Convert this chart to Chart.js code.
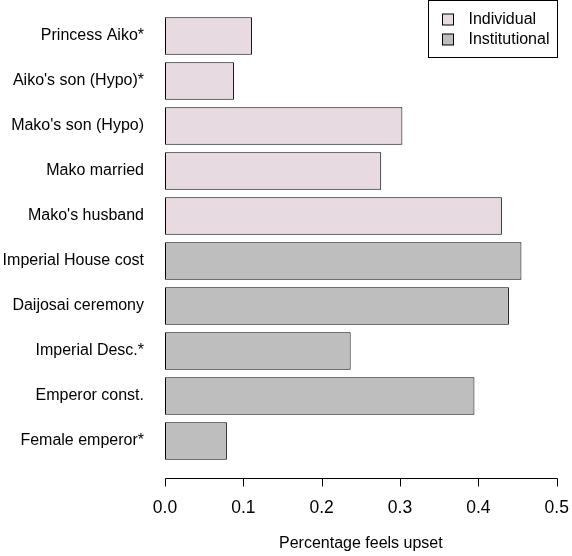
<!DOCTYPE html>
<html>
<head>
<meta charset="utf-8">
<script src="https://cdn.jsdelivr.net/npm/chart.js@4.4.1/dist/chart.umd.min.js"></script>
<style>
    html, body { margin: 0; padding: 0; background: #fff; }
    #wrap { width: 572px; height: 556px; }
</style>
</head>
<body>
<div id="wrap"><canvas id="upsetChart" width="572" height="556"></canvas></div>
<script>
// Data
const categories = [
    "Princess Aiko*",
    "Aiko's son (Hypo)*",
    "Mako's son (Hypo)",
    "Mako married",
    "Mako's husband",
    "Imperial House cost",
    "Daijosai ceremony",
    "Imperial Desc.*",
    "Emperor const.",
    "Female emperor*"
];
const individualValues = [0.111, 0.088, 0.303, 0.276, 0.430, null, null, null, null, null];
const institutionalValues = [null, null, null, null, null, 0.455, 0.439, 0.237, 0.395, 0.079];
const seriesNames = ["Individual", "Institutional"];
const xTicks = [0.0, 0.1, 0.2, 0.3, 0.4, 0.5];
const axisTitle = "Percentage feels upset";

const FONT = "'Liberation Sans', Arial, Helvetica, sans-serif";

// R style axis: line + ticks, detached below the bars
const rAxisPlugin = {
    id: "rAxis",
    afterDraw(chart) {
        const ctx = chart.ctx;
        const xs = chart.scales.x;
        const yLine = 478.5;
        ctx.save();
        ctx.strokeStyle = "#000";
        ctx.lineWidth = 1;
        ctx.beginPath();
        const first = Math.round(xs.getPixelForValue(xTicks[0])) + 0.5;
        const last = Math.round(xs.getPixelForValue(xTicks[xTicks.length - 1])) + 0.5;
        ctx.moveTo(first, yLine);
        ctx.lineTo(last, yLine);
        xTicks.forEach((v) => {
            const px = Math.round(xs.getPixelForValue(v)) + 0.5;
            ctx.moveTo(px, yLine);
            ctx.lineTo(px, yLine + 8);
        });
        ctx.stroke();
        ctx.restore();
    }
};

// Boxed legend in the top right corner
const boxLegendPlugin = {
    id: "boxLegend",
    afterDraw(chart) {
        const ctx = chart.ctx;
        const xs = chart.scales.x;
        ctx.save();
        ctx.font = "16px " + FONT;
        const textW = Math.max(...chart.data.datasets.map((d) => ctx.measureText(d.label).width));
        const right = Math.round(xs.right) + 0.5;
        const width = Math.round(14 + 11 + 15 + textW + 8);
        const left = right - width;
        const top = 0.5;
        const height = 57;
        ctx.strokeStyle = "#000";
        ctx.lineWidth = 1;
        ctx.strokeRect(left, top, width, height);
        chart.data.datasets.forEach((d, i) => {
            const cy = 19.5 + i * 20;
            ctx.fillStyle = d.backgroundColor;
            ctx.fillRect(left + 14, cy - 5.5, 11, 11);
            ctx.strokeStyle = "#000";
            ctx.strokeRect(left + 14, cy - 5.5, 11, 11);
            ctx.fillStyle = "#000";
            ctx.textAlign = "left";
            ctx.textBaseline = "middle";
            ctx.fillText(d.label, left + 40, cy);
        });
        ctx.restore();
    }
};

const ctx = document.getElementById("upsetChart").getContext("2d");
new Chart(ctx, {
    type: "bar",
    data: {
        labels: categories,
        datasets: [
            {
                label: seriesNames[0],
                data: individualValues,
                backgroundColor: "#e7dae1",
                borderColor: "#000",
                borderWidth: 1,
                borderSkipped: false
            },
            {
                label: seriesNames[1],
                data: institutionalValues,
                backgroundColor: "#bebebe",
                borderColor: "#000",
                borderWidth: 1,
                borderSkipped: false
            }
        ]
    },
    options: {
        indexAxis: "y",
        responsive: false,
        animation: false,
        devicePixelRatio: 1,
        layout: { padding: { top: 13.5, right: 15.3, bottom: 0, left: 0 } },
        datasets: { bar: { barPercentage: 1, categoryPercentage: 1 / 1.2 } },
        plugins: {
            legend: { display: false },
            tooltip: { enabled: false }
        },
        scales: {
            x: {
                stacked: true,
                min: 0,
                max: 0.5,
                grid: { display: false, drawTicks: false },
                border: { display: false },
                afterBuildTicks: (scale) => {
                    scale.ticks = xTicks.map((v) => ({ value: v }));
                },
                afterFit: (scale) => {
                    scale.height = 92.5;
                    scale.paddingLeft = 0;
                    scale.paddingRight = 0;
                },
                ticks: {
                    color: "#000",
                    padding: 34,
                    maxRotation: 0,
                    font: { family: FONT, size: 17.5 },
                    callback: (v) => Number(v).toFixed(1)
                },
                title: {
                    display: true,
                    text: axisTitle,
                    color: "#000",
                    font: { family: FONT, size: 16 },
                    padding: { top: 0, bottom: 3 }
                }
            },
            y: {
                stacked: true,
                grid: { display: false, drawTicks: false },
                border: { display: false },
                afterFit: (scale) => {
                    scale.width = 165;
                    scale.paddingTop = 0;
                    scale.paddingBottom = 0;
                },
                ticks: {
                    color: "#000",
                    padding: 21,
                    autoSkip: false,
                    font: { family: FONT, size: 16 }
                }
            }
        }
    },
    plugins: [rAxisPlugin, boxLegendPlugin]
});
</script>
</body>
</html>
